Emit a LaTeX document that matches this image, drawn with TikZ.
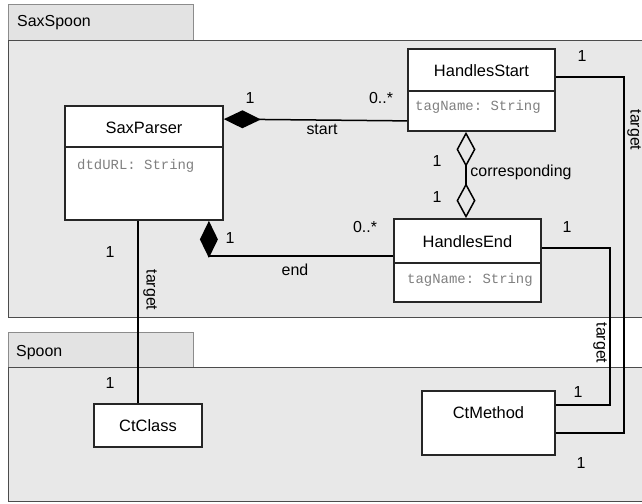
\documentclass[tikz,border=0pt]{standalone}
\usepackage{fontspec}
\setmainfont{Liberation Sans}
\setmonofont{Liberation Mono}
\usetikzlibrary{arrows.meta,calc,positioning}

\tikzset{
  pkgbody/.style={draw=black!70,fill=black!9,line width=1bp},
  pkgtab/.style={draw=black!45,fill=black!11,line width=1bp},
  cls/.style={draw=black!85,fill=white,line width=1.8bp,inner sep=0pt},
  clsname/.style={font=\fontsize{16.5}{18}\selectfont,inner sep=0pt},
  attr/.style={font=\fontsize{14}{16}\selectfont\ttfamily,text=black!50,anchor=west,inner sep=0pt},
  lbl/.style={font=\fontsize{16}{18}\selectfont,inner sep=0pt},
  comp/.style={line width=1.5bp,{Diamond[length=37bp,width=18bp]}-},
  agg/.style={line width=1.5bp,{Diamond[open,length=35bp,width=19bp]}-{Diamond[open,length=35bp,width=19bp]}},
  assoc/.style={line width=1.5bp},
}

\begin{document}
\begin{tikzpicture}[line join=miter]
\useasboundingbox (0,0) rectangle (642bp,504bp);
%% packages
\draw [pkgtab] (8bp,463bp) rectangle (193bp,499bp);
\draw [pkgbody] (8bp,186bp) rectangle (660bp,463bp);
\node (saxspoon) at (17bp,481bp) [lbl,anchor=west] {SaxSpoon};
\draw [pkgtab] (8bp,136bp) rectangle (193bp,171bp);
\draw [pkgbody] (8bp,2bp) rectangle (660bp,136bp);
\node (spoon) at (16bp,151bp) [lbl,anchor=west] {Spoon};
%% classes
\node (parser) at (144bp,341bp) [cls,minimum width=158bp,minimum height=114bp] {};
  \draw [line width=1.5bp,black!85] (parser.west |- 0,357bp) -- (parser.east |- 0,357bp);
  \node (parsername) at (144bp,376bp) [clsname] {SaxParser};
  \node (parserattr) at (77bp,338bp) [attr] {dtdURL: String};
\node (hstart) at (481.5bp,414bp) [cls,minimum width=147bp,minimum height=82bp] {};
  \draw [line width=1.5bp,black!85] (hstart.west |- 0,413bp) -- (hstart.east |- 0,413bp);
  \node (hstartname) at (481.5bp,433bp) [clsname] {HandlesStart};
  \node (hstartattr) at (415bp,397bp) [attr] {tagName: String};
\node (hend) at (467.5bp,243.5bp) [cls,minimum width=147bp,minimum height=83bp] {};
  \draw [line width=1.5bp,black!85] (hend.west |- 0,241bp) -- (hend.east |- 0,241bp);
  \node (hendname) at (467.5bp,262bp) [clsname] {HandlesEnd};
  \node (hendattr) at (407bp,224bp) [attr] {tagName: String};
\node (ctclass) at (148bp,78.5bp) [cls,minimum width=108bp,minimum height=43bp] {};
  \node (ctclassname) at (148bp,78.5bp) [clsname] {CtClass};
\node (ctmethod) at (488.5bp,81bp) [cls,minimum width=133bp,minimum height=64bp] {};
  \node (ctmethodname) at (488.5bp,91bp) [clsname] {CtMethod};
%% connectors
\draw [comp] ([yshift=-14bp]parser.north east) -- ([yshift=11bp]hstart.south west);
\draw [comp] ([xshift=-15bp]parser.south east) |- ([yshift=4.5bp]hend.west);
\draw [agg] ([xshift=-15.5bp]hstart.south) -- ([xshift=-1.5bp]hend.north);
\draw [assoc] ([xshift=-6bp]parser.south) -- ([xshift=-10bp]ctclass.north);
\draw [assoc] ([yshift=13bp]hstart.east) -- ++(68bp,0) |- ([yshift=-10bp]ctmethod.east);
\draw [assoc] ([yshift=12.5bp]hend.east) -- ++(68bp,0) |- ([yshift=18bp]ctmethod.east);
%% labels
\draw (250bp,406bp) node [lbl] {1};
\draw (381bp,406bp) node [lbl] {0..*};
\draw (322bp,375bp) node [lbl] {start};
\draw (230bp,266bp) node [lbl] {1};
\draw (365bp,277bp) node [lbl] {0..*};
\draw (295bp,234bp) node [lbl] {end};
\draw (437bp,343bp) node [lbl] {1};
\draw (437bp,307bp) node [lbl] {1};
\draw (521bp,332bp) node [lbl] {corresponding};
\draw (582bp,448bp) node [lbl] {1};
\draw (634bp,374bp) node [lbl,rotate=-90] {target};
\draw (567bp,277bp) node [lbl] {1};
\draw (600bp,161bp) node [lbl,rotate=-90] {target};
\draw (110bp,252bp) node [lbl] {1};
\draw (150bp,214bp) node [lbl,rotate=-90] {target};
\draw (110bp,121bp) node [lbl] {1};
\draw (578bp,112bp) node [lbl] {1};
\draw (581bp,41bp) node [lbl] {1};
%
\end{tikzpicture}
\end{document}
